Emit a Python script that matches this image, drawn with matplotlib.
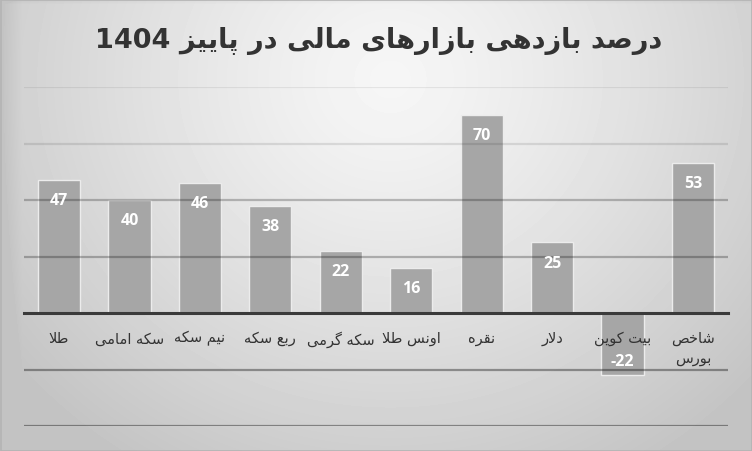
import re
import numpy as np
import matplotlib
matplotlib.use("Agg")
import matplotlib.pyplot as plt
from matplotlib.patches import Rectangle

# ---------------- data ----------------
title = "درصد بازدهی بازارهای مالی در پاییز 1404"
categories = ["طلا", "سکه امامی", "نیم سکه", "ربع سکه", "سکه گرمی",
              "اونس طلا", "نقره", "دلار", "بیت کوین", "شاخص\nبورس"]
values = [47, 40, 46, 38, 22, 16, 70, 25, -22, 53]
grid_levels = [80, 60, 40, 20, -20, -40]

# ---------------- Persian shaping (presentation forms + visual order) ----------------
FORMS = {
    'ا': ('\uFE8D', '\uFE8E'), 'د': ('\uFEA9', '\uFEAA'), 'ذ': ('\uFEAB', '\uFEAC'),
    'ر': ('\uFEAD', '\uFEAE'), 'ز': ('\uFEAF', '\uFEB0'), 'ژ': ('\uFB8A', '\uFB8B'),
    'و': ('\uFEED', '\uFEEE'),
    'ب': ('\uFE8F', '\uFE90', '\uFE91', '\uFE92'), 'پ': ('\uFB56', '\uFB57', '\uFB58', '\uFB59'),
    'ت': ('\uFE95', '\uFE96', '\uFE97', '\uFE98'), 'ث': ('\uFE99', '\uFE9A', '\uFE9B', '\uFE9C'),
    'ج': ('\uFE9D', '\uFE9E', '\uFE9F', '\uFEA0'), 'چ': ('\uFB7A', '\uFB7B', '\uFB7C', '\uFB7D'),
    'ح': ('\uFEA1', '\uFEA2', '\uFEA3', '\uFEA4'), 'خ': ('\uFEA5', '\uFEA6', '\uFEA7', '\uFEA8'),
    'س': ('\uFEB1', '\uFEB2', '\uFEB3', '\uFEB4'), 'ش': ('\uFEB5', '\uFEB6', '\uFEB7', '\uFEB8'),
    'ص': ('\uFEB9', '\uFEBA', '\uFEBB', '\uFEBC'), 'ض': ('\uFEBD', '\uFEBE', '\uFEBF', '\uFEC0'),
    'ط': ('\uFEC1', '\uFEC2', '\uFEC3', '\uFEC4'), 'ظ': ('\uFEC5', '\uFEC6', '\uFEC7', '\uFEC8'),
    'ع': ('\uFEC9', '\uFECA', '\uFECB', '\uFECC'), 'غ': ('\uFECD', '\uFECE', '\uFECF', '\uFED0'),
    'ف': ('\uFED1', '\uFED2', '\uFED3', '\uFED4'), 'ق': ('\uFED5', '\uFED6', '\uFED7', '\uFED8'),
    'ک': ('\uFB8E', '\uFB8F', '\uFB90', '\uFB91'), 'گ': ('\uFB92', '\uFB93', '\uFB94', '\uFB95'),
    'ل': ('\uFEDD', '\uFEDE', '\uFEDF', '\uFEE0'), 'م': ('\uFEE1', '\uFEE2', '\uFEE3', '\uFEE4'),
    'ن': ('\uFEE5', '\uFEE6', '\uFEE7', '\uFEE8'), 'ه': ('\uFEE9', '\uFEEA', '\uFEEB', '\uFEEC'),
    'ی': ('\uFBFC', '\uFBFD', '\uFBFE', '\uFBFF'),
}


def jtype(c):
    if c is None or c not in FORMS:
        return None
    return 'D' if len(FORMS[c]) == 4 else 'R'


def shape_line(s):
    ch = list(s)
    n = len(ch)
    out = []
    i = 0
    while i < n:
        c = ch[i]
        prev = ch[i - 1] if i > 0 else None
        prev_joins = jtype(prev) == 'D' and jtype(c) is not None
        if c == 'ل' and i + 1 < n and ch[i + 1] == 'ا':
            out.append('\uFEFC' if prev_joins else '\uFEFB')
            i += 2
            continue
        nxt = ch[i + 1] if i + 1 < n else None
        next_joins = jtype(c) == 'D' and jtype(nxt) is not None
        f = FORMS.get(c)
        if f is None:
            out.append(c)
        elif len(f) == 2:
            out.append(f[1] if prev_joins else f[0])
        else:
            if prev_joins and next_joins:
                out.append(f[3])
            elif prev_joins:
                out.append(f[1])
            elif next_joins:
                out.append(f[2])
            else:
                out.append(f[0])
        i += 1
    vis = ''.join(reversed(out))
    return re.sub(r'[0-9]+', lambda m: m.group(0)[::-1], vis)


def fa(s):
    return '\n'.join(shape_line(l) for l in s.split('\n'))


# ---------------- figure ----------------
W, H = 752, 452
fig = plt.figure(figsize=(W / 100, H / 100), dpi=100)

# background gradient
bg = fig.add_axes([0, 0, 1, 1], zorder=-10)
yy, xx = np.mgrid[0:H, 0:W]
d = np.sqrt(((xx - 390) / 420.0) ** 2 + ((yy - 80) / 390.0) ** 2)
v = 246 - 42 * d ** 1.25
# slightly darker strips along the left and top edges
v -= 14 * np.clip(1 - xx / 22.0, 0, 1)
v -= 10 * np.clip(1 - yy / 5.0, 0, 1)
v = np.clip(v, 196, 255) / 255.0
bg.imshow(v, cmap='gray', vmin=0, vmax=1, extent=[0, W, H, 0], aspect='auto',
          interpolation='bilinear')
bg.add_patch(Rectangle((0.5, 0.5), W - 1, H - 1, fill=False, ec='#b4b4b4', lw=1.2))
bg.set_xlim(0, W)
bg.set_ylim(H, 0)
bg.axis('off')

ax = fig.add_axes([23.8 / W, 1 - 427 / H, (728.2 - 23.8) / W, (427 - 88) / H])
ax.patch.set_alpha(0)
x = np.arange(len(categories))
ax.bar(x, values, width=0.6, color='#a6a6a6', edgecolor='#ececec', linewidth=1.0, zorder=1)

grid_alpha = {80: 0.07, 60: 0.10, 40: 0.24, 20: 0.26, -20: 0.36, -40: 0.38}
for g in grid_levels:
    ax.axhline(g, color='black', alpha=grid_alpha[g], lw=1.6, zorder=1.5)

ax.set_xlim(-0.5, len(categories) - 0.5)
ax.set_ylim(-40, 80)
for s in ['top', 'right', 'left']:
    ax.spines[s].set_visible(False)
ax.spines['bottom'].set_position(('data', 0))
ax.spines['bottom'].set_color('#3a3a3a')
ax.spines['bottom'].set_linewidth(2.2)
ax.spines['bottom'].set_zorder(3)
ax.set_yticks([])
ax.set_xticks(x)
ax.set_xticklabels([fa(c) for c in categories], family=['DejaVu Sans'], fontsize=10.5,
                   color='#333333', linespacing=1.35)
ax.tick_params(axis='x', length=0, pad=12.5)
for lbl in ax.get_xticklabels():
    lbl.set_zorder(4)

for xi, val in zip(x, values):
    off = -14.5 if val >= 0 else 10.5
    ax.annotate(f"{val}", (xi, val), xytext=(0, off), textcoords='offset points',
                ha='center', va='center', color='white', fontsize=11.5,
                fontweight='bold', family=['Open Sans', 'DejaVu Sans'], zorder=5)

fig.text(0.503, 1 - 41 / H, fa(title), ha='center', va='center', fontsize=19.5,
         fontweight='bold', color='#333333', family=['DejaVu Sans'])

fig.savefig('out.png', dpi=100)
